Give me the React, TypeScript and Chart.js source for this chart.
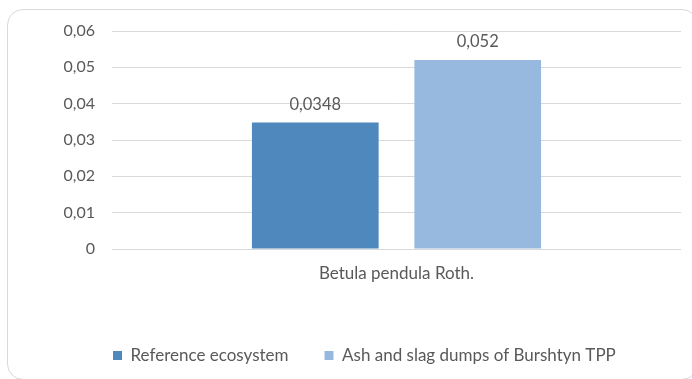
import React, { useEffect, useRef } from "react";
import { Chart, registerables } from "chart.js";

Chart.register(...registerables);

const categories = ["Betula pendula Roth."];
const seriesNames = ["Reference ecosystem", "Ash and slag dumps of Burshtyn TPP"];
const referenceValues = [0.0348];
const ashValues = [0.052];
const yTickLabels = ["0", "0,01", "0,02", "0,03", "0,04", "0,05", "0,06"];

const TEXT = "#595959";
const FONT = "Lato, 'Open Sans', sans-serif";
const LEGEND_PAD = 36;

const valueLabels = {
  id: "valueLabels",
  afterDatasetsDraw(chart: any) {
    const ctx = chart.ctx;
    ctx.save();
    ctx.fillStyle = TEXT;
    ctx.font = `16.5px ${FONT}`;
    ctx.textAlign = "center";
    ctx.textBaseline = "alphabetic";
    chart.data.datasets.forEach((ds: any, di: number) => {
      const meta = chart.getDatasetMeta(di);
      meta.data.forEach((bar: any, i: number) => {
        const v = ds.data[i];
        ctx.fillText(String(v).replace(".", ","), bar.x, bar.y - 13);
      });
    });
    ctx.restore();
  },
};

const legendPlacer = {
  id: "legendPlacer",
  afterLayout(chart: any) {
    const lg = chart.legend;
    if (!lg) return;
    const w = lg.width;
    const h = lg.height;
    lg.left = 113 - LEGEND_PAD;
    lg.right = lg.left + w;
    lg.top = 357 - LEGEND_PAD - 10;
    lg.bottom = lg.top + h;
  },
};

export default function App() {
  const ref = useRef<HTMLCanvasElement | null>(null);
  useEffect(() => {
    if (!ref.current) return;
    const chart = new Chart(ref.current, {
      type: "bar",
      data: {
        labels: categories,
        datasets: [
          { label: seriesNames[0], data: referenceValues, backgroundColor: "#4F88BC" },
          { label: seriesNames[1], data: ashValues, backgroundColor: "#97B9E0" },
        ],
      },
      options: {
        animation: false,
        responsive: false,
        maintainAspectRatio: false,
        layout: { padding: { left: 22, right: 11, top: 31, bottom: 0 } },
        datasets: { bar: { categoryPercentage: 0.571, barPercentage: 0.78 } },
        scales: {
          x: {
            grid: { display: false },
            border: { display: false },
            ticks: { color: TEXT, font: { family: FONT, size: 17 }, padding: 6 },
            afterFit(scale: any) { scale.height = 67; },
          },
          y: {
            min: 0,
            max: 0.06,
            ticks: {
              stepSize: 0.01,
              color: TEXT,
              font: { family: FONT, size: 16 },
              padding: 17,
              callback: (_v: any, i: number) => yTickLabels[i],
            },
            grid: { color: "#D9D9D9", lineWidth: 1, drawTicks: false },
            border: { display: false },
            afterFit(scale: any) { scale.width = 90; },
          },
        },
        plugins: {
          legend: {
            position: "bottom",
            align: "start",
            labels: {
              color: TEXT,
              font: { family: FONT, size: 17 },
              boxWidth: 9,
              boxHeight: 9,
              padding: LEGEND_PAD,
            },
          },
          tooltip: { enabled: false },
        },
      },
      plugins: [legendPlacer, valueLabels],
    });
    return () => chart.destroy();
  }, []);
  return (
    <div style={{ position: "absolute", left: 0, top: 0, width: 692, height: 379, background: "#fff", overflow: "hidden" }}>
      <div
        style={{
          position: "absolute",
          left: 7,
          top: 9,
          width: 691,
          height: 371,
          border: "1.5px solid #D9D9D9",
          borderRadius: 16,
          boxSizing: "border-box",
        }}
      />
      <canvas ref={ref} width={692} height={379} style={{ position: "absolute", left: 0, top: 0, width: 692, height: 379 }} />
    </div>
  );
}
